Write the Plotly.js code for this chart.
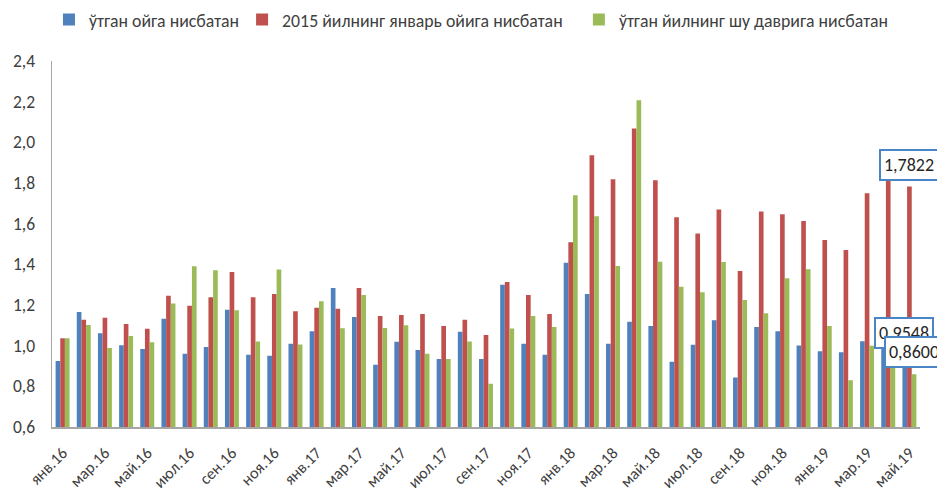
<!DOCTYPE html>
<html>
<head>
<meta charset="utf-8">
<script src="https://cdn.plot.ly/plotly-3.0.1.min.js"></script>
<style>html,body{margin:0;padding:0;background:#fff;overflow:hidden;}#chart{width:937px;height:491px;}</style>
</head>
<body>
<div id="chart"></div>
<script>
const months = ["янв","фев","мар","апр","май","июн","июл","авг","сен","окт","ноя","дек"];
const categories = [];
for (const yr of ["16","17","18","19"]) {
  for (const m of months) {
    categories.push(m + "." + yr);
    if (yr === "19" && m === "май") break;
  }
}
const tickLabels = categories.filter((c, i) => i % 2 === 0);

const seriesNames = [
  "ўтган ойга нисбатан",
  "2015 йилнинг январь ойига нисбатан",
  "ўтган йилнинг шу даврига нисбатан"
];

const prevMonth = [
  0.925,1.166,1.061,1.002,0.984,1.132,0.960,0.993,1.177,0.955,0.950,1.009,
  1.071,1.284,1.141,0.906,1.019,0.979,0.935,1.069,0.934,1.300,1.009,0.955,
  1.408,1.254,1.010,1.118,1.097,0.921,1.004,1.125,0.844,1.092,1.071,1.001,
  0.973,0.968,1.022,1.010,0.9548
];
const vsJan2015 = [
  1.037,1.127,1.137,1.107,1.083,1.245,1.196,1.238,1.362,1.238,1.254,1.169,
  1.186,1.181,1.284,1.146,1.151,1.156,1.097,1.127,1.053,1.313,1.249,1.156,
  1.508,1.937,1.819,2.068,1.814,1.632,1.552,1.670,1.367,1.660,1.646,1.613,
  1.520,1.470,1.749,1.830,1.7822
];
const prevYear = [
  1.037,1.102,0.988,1.048,1.017,1.207,1.390,1.371,1.174,1.020,1.374,1.006,
  1.219,1.086,1.249,1.087,1.101,0.960,0.935,1.020,0.813,1.084,1.146,1.092,
  1.740,1.637,1.392,2.207,1.413,1.290,1.263,1.411,1.225,1.160,1.331,1.376,
  1.097,0.830,0.999,0.890,0.8600
];

const colors = ["#4F81BD","#C0504D","#9BBB59"];
const allSeries = [prevMonth, vsJan2015, prevYear];
const legendIds = ["legend","legend2","legend3"];

const traces = allSeries.map((vals, i) => ({
  type: "bar",
  name: seriesNames[i],
  x: categories,
  y: vals,
  legend: legendIds[i],
  marker: {color: colors[i], line: {width: 0}},
  hoverinfo: "x+y"
}));

const FONT = "Carlito, 'Liberation Sans', Arial, sans-serif";
const last = categories.length - 1;
const fmt = v => v.toFixed(4).replace(".", ",");
const labelShift = [-5, 0, 5];
const labelOrder = [1, 0, 2];
const annotations = labelOrder.map(i => ({
  x: categories[last],
  y: allSeries[i][last],
  xref: "x", yref: "y",
  text: fmt(allSeries[i][last]),
  showarrow: false,
  yanchor: "bottom",
  xanchor: "center",
  xshift: labelShift[i],
  yshift: 6,
  bgcolor: "#ffffff",
  bordercolor: "#4A86C5",
  borderwidth: 2,
  borderpad: 3,
  font: {family: FONT, size: 18, color: "#262626"}
}));

const legendX = [-0.0035, 0.219, 0.607];
const legendBase = {
  orientation: "h",
  xanchor: "left",
  y: 1.112, yanchor: "middle",
  font: {family: FONT, size: 17.8, color: "#404040"},
  itemwidth: 30,
  bgcolor: "rgba(0,0,0,0)"
};

const layout = {
  width: 937, height: 491,
  autosize: false,
  margin: {l: 52, r: 17, t: 61, b: 64, pad: 0, autoexpand: false},
  paper_bgcolor: "#ffffff",
  plot_bgcolor: "#ffffff",
  separators: ", ",
  barmode: "group",
  bargap: 0.34,
  bargroupgap: 0,
  showlegend: true,
  legend: Object.assign({}, legendBase, {x: legendX[0]}),
  legend2: Object.assign({}, legendBase, {x: legendX[1]}),
  legend3: Object.assign({}, legendBase, {x: legendX[2]}),
  xaxis: {
    type: "category",
    automargin: false,
    range: [-0.5, categories.length - 0.5],
    tickmode: "array",
    tickvals: tickLabels,
    ticktext: tickLabels,
    tickangle: -45,
    ticks: "",
    ticklabelstandoff: 8,
    showgrid: false,
    showline: true,
    linecolor: "#A6A6A6",
    linewidth: 2,
    zeroline: false,
    tickfont: {family: FONT, size: 16.3, color: "#404040"}
  },
  yaxis: {
    automargin: false,
    range: [0.6, 2.4],
    dtick: 0.2,
    tick0: 0.6,
    tickformat: ".1f",
    ticks: "",
    ticklabelstandoff: 12,
    showgrid: false,
    showline: true,
    linecolor: "#A6A6A6",
    linewidth: 1.5,
    zeroline: false,
    tickfont: {family: FONT, size: 17.5, color: "#404040"}
  },
  annotations: annotations
};

Plotly.newPlot("chart", traces, layout, {displayModeBar: false, staticPlot: true});
</script>
</body>
</html>
